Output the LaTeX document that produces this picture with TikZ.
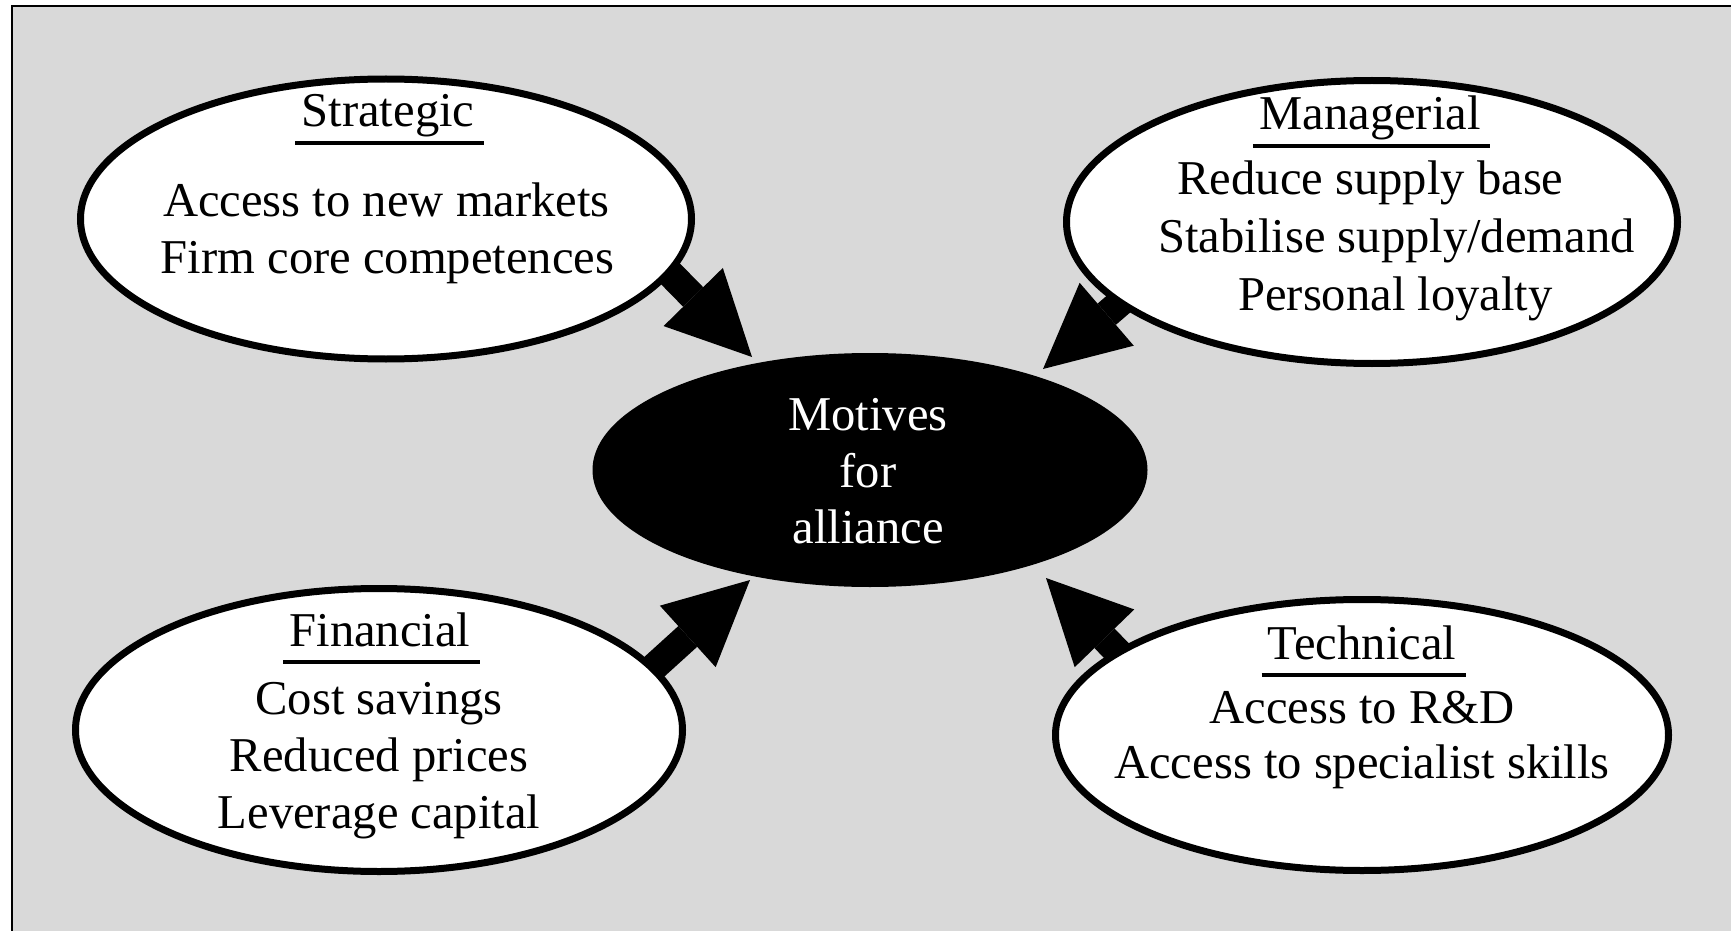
\documentclass[tikz,border=0pt]{standalone}
\usepackage{fontspec}
\setmainfont{Liberation Serif}
\usetikzlibrary{shapes.geometric,arrows.meta,backgrounds}

\definecolor{panel}{HTML}{D9D9D9}

\tikzset{
  motive/.style={ellipse, draw=black, fill=white, line width=3.5pt, inner sep=0pt},
  hub/.style={ellipse, fill=black, inner sep=0pt},
  txt/.style={anchor=base, inner sep=0pt, font=\fontsize{24.3pt}{28pt}\selectfont},
  uline/.style={line width=2pt},
  blockarrow/.style={line width=14pt, shorten <=-20pt,
    -{Triangle[length=42pt,width=41.5pt,line width=0pt]}},
}

\begin{document}
\begin{tikzpicture}[x=0.5pt,y=-0.5pt]
  % canvas and grey panel with its frame
  \clip (0,0) rectangle (1731,931);
  \begin{scope}[on background layer]
    \fill[white] (0,0) rectangle (1731,931);
    \draw[fill=panel, line width=1pt] (12,6) rectangle (1760,960);
  \end{scope}

  % the five ellipses
  \node[motive, minimum width=305.5pt, minimum height=140pt] (strat) at (386,219) {};
  \node[motive, minimum width=305.5pt, minimum height=141.5pt] (man) at (1372,222) {};
  \node[motive, minimum width=303.5pt, minimum height=141.5pt] (fin) at (379,730) {};
  \node[motive, minimum width=306.5pt, minimum height=135.5pt] (tech) at (1362,735) {};
  \node[hub, minimum width=277.5pt, minimum height=117pt] (hub) at (870,470) {};

  % arrow tips on the central ellipse
  \coordinate (tipS) at (752,357);
  \coordinate (tipM) at (1043,369);
  \coordinate (tipF) at (750,580);
  \coordinate (tipT) at (1046,578);

  % block arrows, kept behind the ellipses
  \begin{scope}[on background layer]
    \draw[blockarrow] (strat.-11.6) -- (tipS);
    \draw[blockarrow] (man.198.2) -- (tipM);
    \draw[blockarrow] (fin.13.3) -- (tipF);
    \draw[blockarrow] (tech.161.6) -- (tipT);
  \end{scope}

  % Strategic
  \node[txt] (st0) at (388,127) {Strategic};
  \node[txt] (st1) at (386.5,217) {Access to new markets};
  \node[txt] (st2) at (387.5,273) {Firm core competences};
  \draw[uline] ([shift={(-3pt,-8pt)}]st0.base west) -- ([shift={(4.5pt,-8pt)}]st0.base east);

  % Managerial
  \node[txt] (ma0) at (1370,130) {Managerial};
  \node[txt] (ma1) at (1370.5,195) {Reduce supply base};
  \node[txt] (ma2) at (1396.5,252) {Stabilise supply/demand};
  \node[txt] (ma3) at (1395.5,310) {Personal loyalty};
  \draw[uline] ([shift={(-3pt,-8pt)}]ma0.base west) -- ([shift={(4.5pt,-8pt)}]ma0.base east);

  % Financial
  \node[txt] (fi0) at (380,646) {Financial};
  \node[txt] (fi1) at (379,714) {Cost savings};
  \node[txt] (fi2) at (379,771) {Reduced prices};
  \node[txt] (fi3) at (379,828) {Leverage capital};
  \draw[uline] ([shift={(-3pt,-8pt)}]fi0.base west) -- ([shift={(4.5pt,-8pt)}]fi0.base east);

  % Technical
  \node[txt] (te0) at (1362,659) {Technical};
  \node[txt] (te1) at (1362,723) {Access to R\&D};
  \node[txt] (te2) at (1362,778) {Access to specialist skills};
  \draw[uline] ([shift={(-3pt,-8pt)}]te0.base west) -- ([shift={(4.5pt,-8pt)}]te0.base east);

  % centre label
  \node[txt, text=white] (hu0) at (868,430) {Motives};
  \node[txt, text=white] (hu1) at (868,487) {for};
  \node[txt, text=white] (hu2) at (868,543) {alliance};
\end{tikzpicture}
\end{document}
